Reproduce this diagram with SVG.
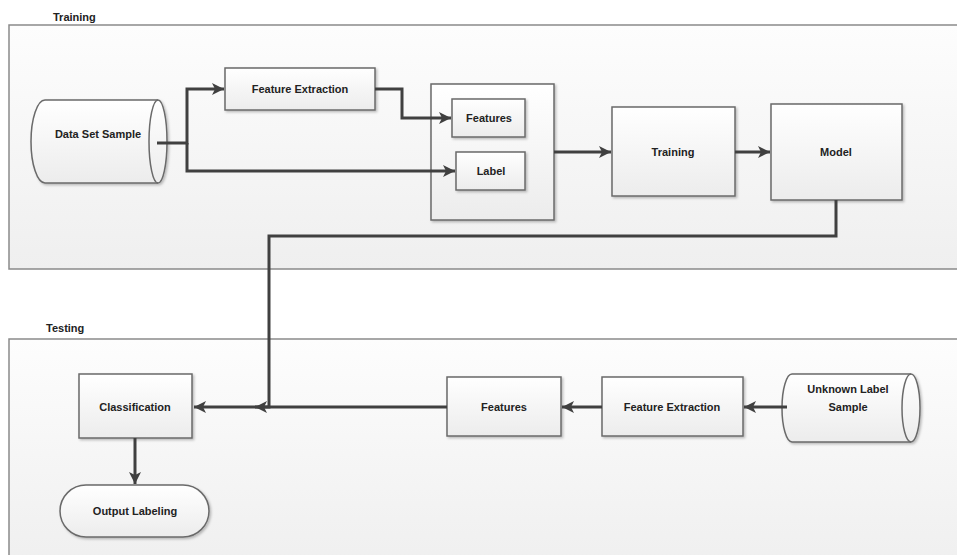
<svg xmlns="http://www.w3.org/2000/svg" width="957" height="555" viewBox="0 0 957 555">
<style>
text{font-family:"Liberation Sans","DejaVu Sans",sans-serif;font-weight:bold;font-size:11px;fill:#222;text-anchor:middle;dominant-baseline:central}
.title{text-anchor:start}
.box{fill:url(#boxg);stroke:#6a6a6a;stroke-width:1.5;filter:url(#sh)}
.panel{fill:url(#panelg);stroke:#8a8a8a;stroke-width:1.5}
.conn{fill:none;stroke:#404040;stroke-width:3}
.arr{marker-end:url(#ah)}
</style>
<defs>
<linearGradient id="boxg" x1="0" y1="0" x2="0" y2="1"><stop offset="0" stop-color="#ffffff"/><stop offset="1" stop-color="#ececec"/></linearGradient>
<linearGradient id="panelg" x1="0" y1="0" x2="0" y2="1"><stop offset="0" stop-color="#fdfdfd"/><stop offset="1" stop-color="#efefef"/></linearGradient>
<filter id="sh" x="-10%" y="-10%" width="125%" height="125%"><feDropShadow dx="1.5" dy="1.5" stdDeviation="1" flood-color="#000" flood-opacity="0.25"/></filter>
<marker id="ah" viewBox="0 0 10 10" refX="10" refY="5" markerWidth="12" markerHeight="12" markerUnits="userSpaceOnUse" orient="auto"><path d="M0,0 L10,5 L0,10 L2.5,5 Z" fill="#404040"/></marker>
</defs>

<g id="training-panel">
<rect class="panel" x="9" y="25" width="960" height="244"/>
<text class="title" x="53" y="17">Training</text>
</g>
<g id="testing-panel">
<rect class="panel" x="9" y="339" width="960" height="230"/>
<text class="title" x="46" y="328">Testing</text>
</g>

<g id="data-set-sample">
<path class="box" d="M45,100 H158 A9,41.5 0 0 1 158,183 H45 A14,41.5 0 0 1 45,100 Z"/>
<path d="M158,100 A9,41.5 0 0 0 158,183" fill="none" stroke="#6a6a6a" stroke-width="1.5"/>
<text x="98" y="134">Data Set Sample</text>
</g>
<g id="feature-extraction-train">
<rect class="box" x="225" y="68" width="150" height="42"/>
<text x="300" y="89">Feature Extraction</text>
</g>
<g id="feature-label-group">
<rect class="box" x="431" y="84" width="123" height="136"/>
</g>
<g id="features-train">
<rect class="box" x="452" y="99" width="73" height="38"/>
<text x="489" y="118">Features</text>
</g>
<g id="label">
<rect class="box" x="456" y="152" width="69" height="38"/>
<text x="491" y="171">Label</text>
</g>
<g id="training">
<rect class="box" x="612" y="107" width="123" height="89"/>
<text x="673" y="152">Training</text>
</g>
<g id="model">
<rect class="box" x="771" y="104" width="131" height="96"/>
<text x="836" y="152">Model</text>
</g>

<g id="classification">
<rect class="box" x="79" y="374" width="113" height="64"/>
<text x="135" y="407">Classification</text>
</g>
<g id="output-labeling">
<rect class="box" x="60" y="485" width="149" height="52" rx="26" ry="26"/>
<text x="135" y="511">Output Labeling</text>
</g>
<g id="features-test">
<rect class="box" x="447" y="377" width="114" height="59"/>
<text x="504" y="407">Features</text>
</g>
<g id="feature-extraction-test">
<rect class="box" x="602" y="377" width="141" height="59"/>
<text x="672" y="407">Feature Extraction</text>
</g>
<g id="unknown-label-sample">
<path class="box" d="M792,374 H911 A9,34 0 0 1 911,442 H792 A10,34 0 0 1 792,374 Z"/>
<path d="M911,374 A9,34 0 0 0 911,442" fill="none" stroke="#6a6a6a" stroke-width="1.5"/>
<text x="848" y="389">Unknown Label</text>
<text x="848" y="407">Sample</text>
</g>

<g id="connectors">
<path class="conn arr" d="M157,143 H187 V89 H224"/>
<path class="conn arr" d="M187,143 V171 H455"/>
<path class="conn arr" d="M375,89 H402 V118 H451"/>
<path class="conn arr" d="M554,152 H611"/>
<path class="conn arr" d="M735,152 H770"/>
<path class="conn arr" d="M836,200 V236 H269 V407 H255"/>
<path class="conn arr" d="M447,407 H194"/>
<path class="conn arr" d="M602,407 H562"/>
<path class="conn arr" d="M787,407 H744"/>
<path class="conn arr" d="M135,438 V484"/>
</g>
</svg>
